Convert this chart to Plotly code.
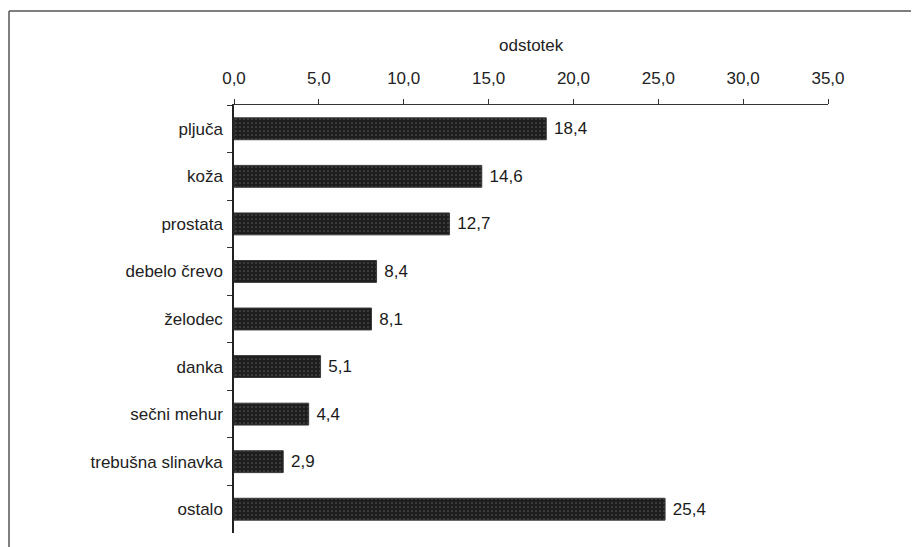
import plotly.graph_objects as go

categories = ["pljuča", "koža", "prostata", "debelo črevo", "želodec", "danka",
              "sečni mehur", "trebušna slinavka", "ostalo"]
values = [18.4, 14.6, 12.7, 8.4, 8.1, 5.1, 4.4, 2.9, 25.4]
x_ticks = [0, 5, 10, 15, 20, 25, 30, 35]
x_title = "odstotek"

# page has an 8px body margin; target page coords compensated
OFF = 8
W, H = 919 - OFF, 547 - OFF
PX0, PX1, PY0, PY1 = 234, 828, 105, 533   # plot area in page pixels
L, R, T, B = PX0 - OFF, 919 - PX1, PY0 - OFF, 547 - PY1
pw, ph = W - L - R, H - T - B


def px(xp):
    return (xp - PX0) / pw


def py(yp):
    return 1 + (PY0 - yp) / ph


FS = 17

fig = go.Figure(go.Bar(
    y=categories, x=values, orientation="h",
    marker=dict(color="#1e1e1e", line=dict(color="#3a3a3a", width=1),
                pattern=dict(shape=".", fgcolor="#8a8a8a", bgcolor="#1e1e1e",
                             size=4, solidity=0.15)),
    texttemplate=" %{x:.1f}", textposition="outside",
    textfont=dict(size=FS, color="#1a1a1a"), cliponaxis=False,
    width=0.46,
))

fig.update_layout(
    width=W, height=H, separators=", ",
    margin=dict(l=L, r=R, t=T, b=B, autoexpand=False),
    paper_bgcolor="white", plot_bgcolor="white",
    font=dict(family="Liberation Sans, Arial, sans-serif", size=FS, color="#222"),
    showlegend=False,
    xaxis=dict(side="top", range=[0, 35], tickvals=x_ticks, tickformat=".1f",
               showgrid=False, zeroline=False, showline=True, linecolor="#333",
               linewidth=1, ticks="outside", ticklen=5, tickcolor="#333",
               ticklabelstandoff=8, tickfont=dict(size=FS)),
    yaxis=dict(autorange="reversed", showgrid=False, zeroline=False,
               showline=True, linecolor="#222", linewidth=1.5,
               ticks="outside", tickson="boundaries", ticklen=5, tickcolor="#333",
               ticklabelstandoff=6, tickfont=dict(size=FS)),
    annotations=[dict(text=x_title, xref="paper", yref="paper", x=0.5,
                      y=py(45), showarrow=False, yanchor="middle",
                      font=dict(size=FS))],
    shapes=[
        dict(type="line", xref="paper", yref="paper",
             x0=px(9), x1=px(919), y0=py(11), y1=py(11),
             line=dict(color="#555", width=1.5)),
        dict(type="line", xref="paper", yref="paper",
             x0=px(9), x1=px(9), y0=py(11), y1=py(560),
             line=dict(color="#555", width=1.5)),
    ],
)

fig.write_html("out.html")
